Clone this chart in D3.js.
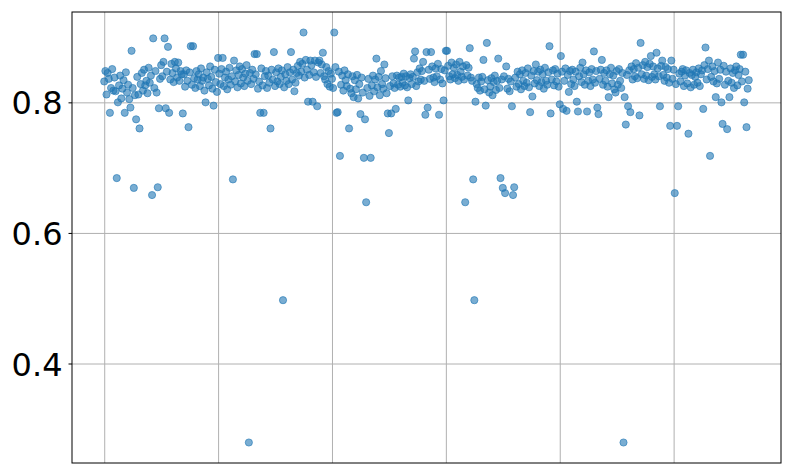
<!DOCTYPE html>
<html>
<head>
<meta charset="utf-8">
<script src="https://cdn.jsdelivr.net/npm/d3@7"></script>
<style>
  body { margin: 0; background: #fff; }
  .grid line { stroke: #b0b0b0; stroke-width: 1; }
  .grid path { display: none; }
  .yaxis text { font-family: "DejaVu Sans", sans-serif; font-size: 32px; fill: #000; }
  .yaxis path { display: none; }
  .yaxis line { stroke: #000; }
</style>
</head>
<body>
<div id="chart"></div>
<script>
const width = 793;
const height = 476;
const margin = {top: 12, right: 12, bottom: 13, left: 72};

// y values, one per run index (x = 0 .. n-1)
const scores = [
  0.832, 0.848, 0.812, 0.845, 0.836, 0.784, 0.822, 0.851, 0.818, 0.838,
  0.817, 0.684, 0.800, 0.826, 0.841, 0.806, 0.821, 0.834, 0.784, 0.846,
  0.815, 0.827, 0.805, 0.792, 0.879, 0.822, 0.669, 0.811, 0.774, 0.839,
  0.812, 0.760, 0.828, 0.845, 0.818, 0.850, 0.826, 0.833, 0.814, 0.853,
  0.830, 0.841, 0.658, 0.898, 0.822, 0.848, 0.815, 0.670, 0.791, 0.836,
  0.857, 0.840, 0.862, 0.898, 0.791, 0.847, 0.885, 0.784, 0.835, 0.859,
  0.845, 0.831, 0.862, 0.852, 0.838, 0.861, 0.833, 0.848, 0.843, 0.783,
  0.843, 0.824, 0.849, 0.833, 0.762, 0.846, 0.886, 0.827, 0.886, 0.837,
  0.822, 0.848, 0.835, 0.843, 0.825, 0.852, 0.833, 0.838, 0.818, 0.800,
  0.846, 0.836, 0.826, 0.855, 0.839, 0.821, 0.795, 0.850, 0.831, 0.816,
  0.868, 0.844, 0.828, 0.851, 0.868, 0.825, 0.838, 0.847, 0.820, 0.835,
  0.853, 0.827, 0.840, 0.682, 0.864, 0.832, 0.849, 0.823, 0.842, 0.855,
  0.829, 0.851, 0.838, 0.825, 0.844, 0.857, 0.833, 0.279, 0.845, 0.828,
  0.850, 0.836, 0.874, 0.843, 0.874, 0.821, 0.832, 0.784, 0.852, 0.826,
  0.784, 0.840, 0.848, 0.822, 0.841, 0.830, 0.760, 0.850, 0.835, 0.877,
  0.825, 0.846, 0.832, 0.852, 0.828, 0.839, 0.849, 0.497, 0.823, 0.843,
  0.833, 0.854, 0.828, 0.846, 0.877, 0.835, 0.850, 0.817, 0.830, 0.845,
  0.856, 0.841, 0.862, 0.847, 0.859, 0.907, 0.838, 0.865, 0.850, 0.801,
  0.842, 0.864, 0.857, 0.801, 0.846, 0.864, 0.839, 0.794, 0.861, 0.864,
  0.845, 0.858, 0.876, 0.840, 0.835, 0.854, 0.828, 0.848, 0.824, 0.844,
  0.836, 0.822, 0.907, 0.854, 0.784, 0.785, 0.847, 0.718, 0.827, 0.841,
  0.818, 0.849, 0.834, 0.825, 0.843, 0.760, 0.821, 0.814, 0.840, 0.808,
  0.834, 0.820, 0.842, 0.806, 0.828, 0.782, 0.838, 0.815, 0.715, 0.774,
  0.647, 0.822, 0.836, 0.810, 0.715, 0.826, 0.841, 0.817, 0.835, 0.867,
  0.823, 0.839, 0.811, 0.848, 0.828, 0.821, 0.858, 0.837, 0.814, 0.783,
  0.753, 0.825, 0.783, 0.840, 0.829, 0.822, 0.790, 0.841, 0.827, 0.838,
  0.824, 0.839, 0.830, 0.844, 0.826, 0.840, 0.823, 0.803, 0.837, 0.843,
  0.828, 0.839, 0.867, 0.878, 0.825, 0.846, 0.832, 0.852, 0.835, 0.848,
  0.862, 0.833, 0.781, 0.877, 0.792, 0.850, 0.836, 0.877, 0.855, 0.838,
  0.831, 0.852, 0.840, 0.859, 0.781, 0.835, 0.851, 0.829, 0.803, 0.849,
  0.879, 0.879, 0.856, 0.840, 0.835, 0.861, 0.843, 0.853, 0.837, 0.858,
  0.842, 0.833, 0.862, 0.847, 0.839, 0.855, 0.835, 0.647, 0.857, 0.841,
  0.853, 0.883, 0.838, 0.833, 0.682, 0.497, 0.801, 0.828, 0.822, 0.838,
  0.818, 0.832, 0.839, 0.865, 0.820, 0.795, 0.891, 0.834, 0.815, 0.824,
  0.837, 0.811, 0.831, 0.841, 0.819, 0.833, 0.867, 0.822, 0.684, 0.835,
  0.669, 0.840, 0.661, 0.855, 0.821, 0.836, 0.817, 0.832, 0.794, 0.658,
  0.670, 0.838, 0.824, 0.847, 0.828, 0.843, 0.820, 0.849, 0.833, 0.825,
  0.845, 0.830, 0.852, 0.823, 0.785, 0.841, 0.809, 0.848, 0.829, 0.858,
  0.834, 0.847, 0.825, 0.850, 0.831, 0.843, 0.821, 0.853, 0.833, 0.827,
  0.846, 0.886, 0.783, 0.835, 0.849, 0.826, 0.851, 0.832, 0.844, 0.824,
  0.797, 0.871, 0.847, 0.790, 0.833, 0.852, 0.787, 0.842, 0.816, 0.848,
  0.828, 0.850, 0.835, 0.825, 0.847, 0.801, 0.786, 0.840, 0.853, 0.831,
  0.861, 0.843, 0.827, 0.849, 0.786, 0.833, 0.846, 0.825, 0.851, 0.835,
  0.878, 0.830, 0.848, 0.792, 0.782, 0.836, 0.850, 0.865, 0.827, 0.845,
  0.833, 0.849, 0.824, 0.808, 0.843, 0.853, 0.829, 0.841, 0.820, 0.815,
  0.848, 0.827, 0.851, 0.833, 0.822, 0.845, 0.279, 0.808, 0.766, 0.842,
  0.794, 0.849, 0.785, 0.855, 0.835, 0.851, 0.840, 0.860, 0.837, 0.853,
  0.780, 0.891, 0.843, 0.857, 0.836, 0.862, 0.841, 0.854, 0.834, 0.859,
  0.871, 0.839, 0.855, 0.843, 0.835, 0.876, 0.852, 0.840, 0.794, 0.856,
  0.864, 0.842, 0.833, 0.854, 0.838, 0.851, 0.830, 0.764, 0.864, 0.836,
  0.850, 0.661, 0.828, 0.764, 0.794, 0.844, 0.832, 0.847, 0.851, 0.825,
  0.841, 0.849, 0.829, 0.752, 0.845, 0.823, 0.842, 0.850, 0.827, 0.839,
  0.846, 0.830, 0.852, 0.825, 0.843, 0.849, 0.790, 0.857, 0.884, 0.835,
  0.851, 0.864, 0.718, 0.839, 0.855, 0.832, 0.848, 0.808, 0.829, 0.861,
  0.836, 0.850, 0.800, 0.767, 0.856, 0.827, 0.847, 0.759, 0.833, 0.808,
  0.852, 0.830, 0.845, 0.822, 0.849, 0.855, 0.826, 0.842, 0.851, 0.873,
  0.832, 0.873, 0.800, 0.847, 0.762, 0.821, 0.834
];
const xTicks = [0, 100, 200, 300, 400, 500];
const yTicks = [0.4, 0.6, 0.8];

const points = scores.map((v, i) => ({x: i, y: v}));

const svg = d3.select("#chart").append("svg")
    .attr("width", width)
    .attr("height", height);

const innerW = width - margin.left - margin.right;
const innerH = height - margin.top - margin.bottom;

const g = svg.append("g")
    .attr("transform", `translate(${margin.left},${margin.top})`);

// matplotlib style 5% padding on both axes
const xExt = d3.extent(points, d => d.x);
const yExt = d3.extent(points, d => d.y);
const xPad = (xExt[1] - xExt[0]) * 0.05;
const yPad = (yExt[1] - yExt[0]) * 0.05;

const x = d3.scaleLinear()
    .domain([xExt[0] - xPad, xExt[1] + xPad])
    .range([0, innerW]);
const y = d3.scaleLinear()
    .domain([yExt[0] - yPad, yExt[1] + yPad])
    .range([innerH, 0]);

// grid
g.append("g")
    .attr("class", "grid")
    .attr("transform", `translate(0,${innerH})`)
    .call(d3.axisBottom(x).tickValues(xTicks).tickSize(-innerH).tickFormat(""));
g.append("g")
    .attr("class", "grid")
    .call(d3.axisLeft(y).tickValues(yTicks).tickSize(-innerW).tickFormat(""));

// points
g.append("g")
    .selectAll("circle")
    .data(points)
    .join("circle")
    .attr("cx", d => x(d.x))
    .attr("cy", d => y(d.y))
    .attr("r", 3.6)
    .attr("fill", "#1f77b4")
    .attr("fill-opacity", 0.6)
    .attr("stroke", "#1f77b4")
    .attr("stroke-opacity", 0.6)
    .attr("stroke-width", 1);

// y axis labels
const yAxis = g.append("g")
    .attr("class", "yaxis")
    .call(d3.axisLeft(y).tickValues(yTicks).tickSize(3.5).tickPadding(6).tickFormat(d3.format(".1f")));
yAxis.selectAll("text").attr("dy", "0.36em");

// frame
g.append("rect")
    .attr("width", innerW)
    .attr("height", innerH)
    .attr("fill", "none")
    .attr("stroke", "#000")
    .attr("stroke-width", 1);
</script>
</body>
</html>
